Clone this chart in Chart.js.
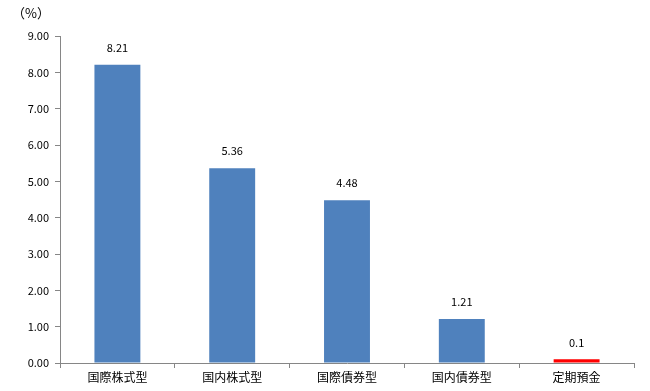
<!DOCTYPE html>
<html>
<head>
<meta charset="utf-8">
<script src="https://cdn.jsdelivr.net/npm/chart.js@4"></script>
<style>
  html, body { margin: 0; padding: 0; background: #fff; }
  #wrap { width: 650px; height: 391px; }
</style>
</head>
<body>
<div id="wrap"><canvas id="chart" width="650" height="391"></canvas></div>
<script>
const categories = ["国際株式型", "国内株式型", "国際債券型", "国内債券型", "定期預金"]
const returns = [8.21, 5.36, 4.48, 1.21, 0.1]
const valueLabels = ["8.21", "5.36", "4.48", "1.21", "0.1"]
const barColors = ["#4F81BD", "#4F81BD", "#4F81BD", "#4F81BD", "#FF0000"]
const unitLabel = "（%）"

const font = "'Noto Sans CJK JP', 'Noto Sans', sans-serif"

// labels above bars + the unit text in the corner
const labelPlugin = {
  id: "barLabels",
  afterDatasetsDraw(chart) {
    const ctx = chart.ctx
    const meta = chart.getDatasetMeta(0)
    ctx.save()
    ctx.fillStyle = "#000"
    ctx.font = "11px " + font
    ctx.textAlign = "center"
    ctx.textBaseline = "middle"
    meta.data.forEach((bar, i) => {
      ctx.fillText(valueLabels[i], bar.x, bar.y - 17)
    })
    ctx.font = "13px " + font
    ctx.textAlign = "left"
    ctx.fillText(unitLabel, chart.chartArea.left - 48, 13)
    ctx.restore()
  }
}

new Chart(document.getElementById("chart").getContext("2d"), {
  type: "bar",
  data: {
    labels: categories,
    datasets: [{
      data: returns,
      backgroundColor: barColors,
      categoryPercentage: 1,
      barPercentage: 0.4
    }]
  },
  options: {
    responsive: false,
    animation: false,
    layout: { padding: { left: 0, right: 16, top: 36, bottom: 0 } },
    plugins: {
      legend: { display: false },
      tooltip: { enabled: false }
    },
    scales: {
      x: {
        afterFit(s) { s.height = 28 },
        grid: { drawOnChartArea: false, tickLength: 5, color: "#868686", offset: true },
        border: { color: "#868686" },
        ticks: { color: "#000", font: { family: font, size: 12 }, padding: 2 }
      },
      y: {
        min: 0,
        max: 9,
        afterFit(s) { s.width = 60 },
        grid: { drawOnChartArea: false, tickLength: 5, color: "#868686" },
        border: { color: "#868686" },
        ticks: {
          stepSize: 1,
          color: "#000",
          padding: 6,
          font: { family: font, size: 11 },
          callback: v => v.toFixed(2)
        }
      }
    }
  },
  plugins: [labelPlugin]
})
</script>
</body>
</html>
